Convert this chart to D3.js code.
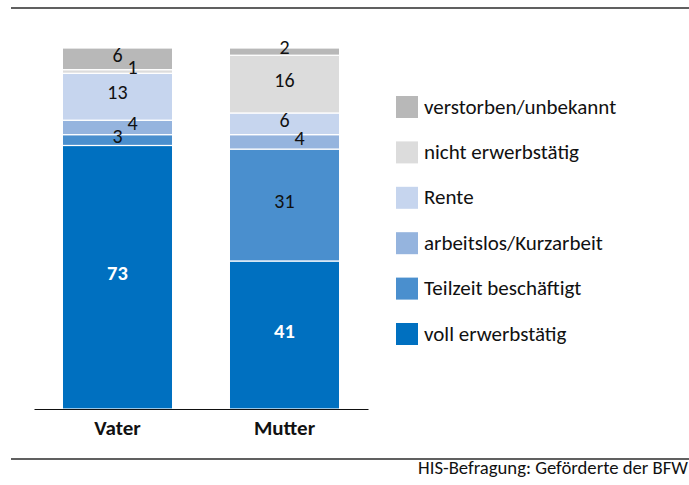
<!DOCTYPE html>
<html>
<head>
<meta charset="utf-8">
<script src="https://cdn.jsdelivr.net/npm/d3@7"></script>
<style>
  body { margin: 0; background: #fff; }
  svg { display: block; font-family: Carlito, Lato, "Open Sans", sans-serif; }
</style>
</head>
<body>
<div class="chart"></div>
<script>
// categories and series (bottom to top)
const groups = ["Vater", "Mutter"];
const seriesNames = [
  "voll erwerbstätig",
  "Teilzeit beschäftigt",
  "arbeitslos/Kurzarbeit",
  "Rente",
  "nicht erwerbstätig",
  "verstorben/unbekannt"
];
const vollValues = [73, 41];
const teilzeitValues = [3, 31];
const arbeitslosValues = [4, 4];
const renteValues = [13, 6];
const nichtValues = [1, 16];
const verstorbenValues = [6, 2];
const sourceText = "HIS-Befragung: Geförderte der BFW";

const colors = ["#0070c0", "#4a8fce", "#95b4de", "#c6d5ee", "#dcdcdc", "#b8b8b8"];

const width = 689, height = 485;
const fontStack = "Carlito, Lato, 'Open Sans', sans-serif";

const svg = d3
  .select(".chart")
  .append("svg")
  .attr("width", width)
  .attr("height", height);

// build rows for stack
const allValues = [vollValues, teilzeitValues, arbeitslosValues, renteValues, nichtValues, verstorbenValues];
const rows = groups.map((g, i) => {
  const row = { group: g };
  seriesNames.forEach((s, j) => (row[s] = allValues[j][i]));
  return row;
});
const stacked = d3.stack().keys(seriesNames)(rows);

//scales
const x = d3.scaleBand().domain(groups).range([34, 368]).paddingInner(0.34).paddingOuter(0.17);
const y = d3.scaleLinear().domain([0, 100]).range([409, 48]);
const color = d3.scaleOrdinal().domain(seriesNames).range(colors);

// frame lines
svg.append("line").attr("x1", 11).attr("x2", 689).attr("y1", 8).attr("y2", 8)
  .attr("stroke", "#2b2b2b").attr("stroke-width", 1.5);
svg.append("line").attr("x1", 11).attr("x2", 689).attr("y1", 459).attr("y2", 459)
  .attr("stroke", "#2b2b2b").attr("stroke-width", 1.5);

// bars
const layer = svg.selectAll("g.layer")
  .data(stacked)
  .enter()
  .append("g")
  .attr("class", "layer")
  .attr("fill", d => color(d.key));

layer.selectAll("rect")
  .data(d => d)
  .enter()
  .append("rect")
  .attr("x", d => x(d.data.group))
  .attr("width", x.bandwidth())
  .attr("y", d => y(d[1]))
  .attr("height", d => y(d[0]) - y(d[1]))
  .attr("stroke", "#fff")
  .attr("stroke-width", 1.2);

// value labels, a few nudged right so they don't collide
const nudged = new Set(["Vater|arbeitslos/Kurzarbeit", "Vater|nicht erwerbstätig", "Mutter|arbeitslos/Kurzarbeit"]);

stacked.forEach((s, si) => {
  s.forEach(d => {
    const key = d.data.group + "|" + s.key;
    const big = si === 0;
    const fs = big ? 20.5 : 20;
    const mid = (y(d[0]) + y(d[1])) / 2;
    svg.append("text")
      .attr("x", x(d.data.group) + x.bandwidth() / 2 + (nudged.has(key) ? 15 : 0))
      .attr("y", mid - 4.5 + 0.36 * fs)
      .attr("text-anchor", "middle")
      .attr("font-size", fs)
      .attr("font-weight", big ? "bold" : "normal")
      .attr("fill", big ? "#fff" : "#111")
      .text(d.data[s.key]);
  });
});

// x axis
const xAxis = d3.axisBottom(x).tickSize(0).tickPadding(11);
const gx = svg.append("g")
  .attr("transform", "translate(0,409)")
  .call(xAxis);
gx.select(".domain").attr("stroke", "#111").attr("stroke-width", 1.2);
gx.selectAll("text")
  .attr("font-size", 21)
  .attr("font-weight", "bold")
  .attr("fill", "#111")
  .attr("font-family", fontStack);

// legend (top entry = top of stack)
const legendOrder = seriesNames.slice().reverse();
const ly = d3.scalePoint().domain(legendOrder).range([107, 334]);

const legend = svg.selectAll("g.legend")
  .data(legendOrder)
  .enter()
  .append("g")
  .attr("class", "legend")
  .attr("transform", d => "translate(396," + ly(d) + ")");

legend.append("rect")
  .attr("x", 0).attr("y", -11)
  .attr("width", 22).attr("height", 22)
  .attr("fill", d => color(d));

legend.append("text")
  .attr("x", 28).attr("y", 6.5)
  .attr("font-size", 21)
  .attr("fill", "#111")
  .text(d => d);

// source
svg.append("text")
  .attr("x", 688).attr("y", 474)
  .attr("text-anchor", "end")
  .attr("font-size", 18.7)
  .attr("fill", "#111")
  .text(sourceText);
</script>
</body>
</html>
